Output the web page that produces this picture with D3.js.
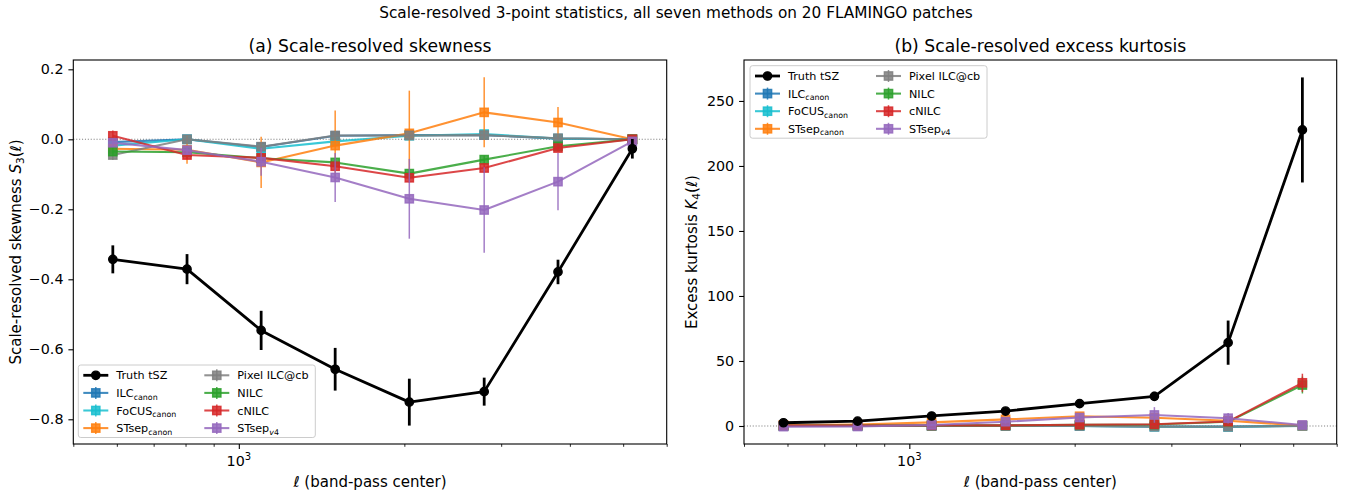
<!DOCTYPE html>
<html><head><meta charset="utf-8">
<script src="https://cdn.jsdelivr.net/npm/d3@7/dist/d3.min.js"></script>
<style>body{margin:0;background:#fff;} svg{display:block;font-family:"DejaVu Sans",sans-serif;}</style>
</head><body>
<svg id="chart" width="1352" height="497"></svg>
<script>
// ---------------- data ----------------
const ell = [590, 805, 1098, 1497, 2042, 2794, 3806, 5196];
const xMajorTicks = [1000];
const xMinorTicks = [500, 600, 700, 800, 900, 2000, 3000, 4000, 5000, 6000];
const skewTicks = [0.2, 0.0, -0.2, -0.4, -0.6, -0.8];
const kurtTicks = [0, 50, 100, 150, 200, 250];

const truthName = "Truth tSZ";
const methodNames = ["ILC", "FoCUS", "STsep", "Pixel ILC@cb", "NILC", "cNILC", "STsep"];
const methodSubs  = ["canon", "canon", "canon", "", "", "", "v4"];

// (a) skewness
const skewTruth    = [-0.343, -0.371, -0.546, -0.657, -0.751, -0.721, -0.379, -0.027];
const skewTruthErr = [0.040, 0.043, 0.056, 0.061, 0.067, 0.040, 0.035, 0.028];
const skewILC      = [-0.008, 0.000, -0.022, 0.010, 0.012, 0.012, 0.002, 0.000];
const skewILCErr   = [0.012, 0.006, 0.008, 0.008, 0.008, 0.008, 0.006, 0.004];
const skewFoCUS    = [-0.018, 0.000, -0.027, -0.006, 0.010, 0.015, 0.002, 0.000];
const skewFoCUSErr = [0.012, 0.006, 0.008, 0.008, 0.008, 0.008, 0.006, 0.004];
const skewSTsep    = [-0.027, -0.030, -0.066, -0.018, 0.017, 0.077, 0.048, 0.000];
const skewSTsepErr = [0.015, 0.040, 0.073, 0.100, 0.122, 0.100, 0.044, 0.005];
const skewPixel    = [-0.045, 0.000, -0.021, 0.011, 0.011, 0.012, 0.003, 0.000];
const skewPixelErr = [0.014, 0.006, 0.008, 0.008, 0.008, 0.008, 0.006, 0.004];
const skewNILC     = [-0.035, -0.037, -0.054, -0.066, -0.098, -0.058, -0.020, 0.000];
const skewNILCErr  = [0.012, 0.008, 0.010, 0.010, 0.012, 0.012, 0.008, 0.004];
const skewCNILC    = [0.010, -0.045, -0.053, -0.077, -0.110, -0.082, -0.025, 0.000];
const skewCNILCErr = [0.015, 0.012, 0.012, 0.012, 0.014, 0.014, 0.010, 0.004];
const skewV4       = [-0.010, -0.031, -0.064, -0.109, -0.170, -0.202, -0.121, -0.006];
const skewV4Err    = [0.012, 0.012, 0.040, 0.070, 0.114, 0.122, 0.082, 0.010];

// (b) excess kurtosis
const kurtTruth    = [2.5, 3.8, 7.7, 11.5, 17.2, 22.8, 64.1, 227.7];
const kurtTruthErr = [0.6, 0.8, 1.2, 1.8, 2.5, 3.5, 17.0, 40.4];
const kurtILC      = [0.1, 0.2, 0.2, 0.2, 0.1, -0.4, -0.5, 0.2];
const kurtILCErr   = [0.2, 0.2, 0.3, 0.3, 0.4, 0.5, 0.5, 0.3];
const kurtFoCUS    = [0.1, 0.1, 0.2, 0.2, 0.0, -0.6, -0.7, 0.1];
const kurtFoCUSErr = [0.2, 0.2, 0.3, 0.3, 0.4, 0.5, 0.5, 0.3];
const kurtSTsep    = [0.8, 1.2, 2.8, 5.1, 7.5, 6.3, 4.0, 0.3];
const kurtSTsepErr = [0.3, 0.5, 0.8, 1.5, 2.0, 2.0, 1.5, 0.3];
const kurtPixel    = [0.1, 0.1, 0.2, 0.1, 0.0, -0.5, -0.6, 0.1];
const kurtPixelErr = [0.2, 0.2, 0.3, 0.3, 0.4, 0.5, 0.5, 0.3];
const kurtNILC     = [0.2, 0.3, 0.4, 0.5, 0.9, 1.1, 3.3, 31.5];
const kurtNILCErr  = [0.2, 0.3, 0.4, 0.5, 0.8, 1.0, 1.5, 6.5];
const kurtCNILC    = [0.3, 0.4, 0.4, 0.5, 1.0, 1.3, 3.4, 33.2];
const kurtCNILCErr = [0.2, 0.3, 0.4, 0.5, 0.8, 1.0, 1.5, 7.0];
const kurtV4       = [-0.5, -0.4, 0.8, 3.3, 6.5, 8.5, 6.0, 0.8];
const kurtV4Err    = [0.3, 0.4, 0.8, 1.5, 3.0, 6.0, 4.0, 0.6];

// ---------------- styles ----------------
const methodColors = ["#1f77b4", "#17becf", "#ff7f0e", "#7f7f7f", "#2ca02c", "#d62728", "#9467bd"];
const FONT = '"DejaVu Sans", sans-serif';
const TICK_FS = 14.3, LABEL_FS = 15, TITLE_FS = 17.2, SUP_FS = 15.3, LEG_FS = 11.2;

const svg = d3.select("#chart");

svg.append("text").attr("x", 676).attr("y", 17.5).attr("text-anchor", "middle")
  .attr("font-size", SUP_FS).attr("fill", "#000")
  .text("Scale-resolved 3-point statistics, all seven methods on 20 FLAMINGO patches");

function drawPanel(cfg) {
  const g = svg.append("g");
  const x = d3.scaleLog().domain([500, 6000]).range([cfg.x0, cfg.x1]);
  const y = d3.scaleLinear().domain(cfg.yDomain).range([cfg.y1, cfg.y0]);

  // title
  g.append("text").attr("x", (cfg.x0 + cfg.x1) / 2).attr("y", cfg.y0 - 8.5)
    .attr("text-anchor", "middle").attr("font-size", TITLE_FS).text(cfg.title);

  // zero line
  g.append("line").attr("x1", cfg.x0).attr("x2", cfg.x1)
    .attr("y1", y(0)).attr("y2", y(0))
    .attr("stroke", "#808080").attr("stroke-width", 1.1)
    .attr("stroke-dasharray", "1.1,1.8");

  // axes: y
  const yAxis = d3.axisLeft(y).tickValues(cfg.yTicks).tickSize(4.9).tickPadding(4.9)
    .tickFormat(cfg.yFormat);
  const ya = g.append("g").attr("transform", `translate(${cfg.x0},0)`).call(yAxis);
  ya.select(".domain").remove();
  ya.selectAll(".tick line").attr("stroke", "#000").attr("stroke-width", 1.1);
  ya.selectAll(".tick text").attr("font-size", TICK_FS).attr("font-family", FONT).attr("fill", "#000");

  // axes: x minor
  const xMinor = d3.axisBottom(x).tickValues(xMinorTicks).tickSize(2.8).tickFormat("");
  const xm = g.append("g").attr("transform", `translate(0,${cfg.y1})`).call(xMinor);
  xm.select(".domain").remove();
  xm.selectAll(".tick line").attr("stroke", "#000").attr("stroke-width", 0.85);
  // axes: x major
  const xMajor = d3.axisBottom(x).tickValues(xMajorTicks).tickSize(4.9).tickFormat("");
  const xM = g.append("g").attr("transform", `translate(0,${cfg.y1})`).call(xMajor);
  xM.select(".domain").remove();
  xM.selectAll(".tick line").attr("stroke", "#000").attr("stroke-width", 1.1);
  xMajorTicks.forEach(v => {
    const t = g.append("text").attr("x", x(v)).attr("y", cfg.y1 + 22).attr("text-anchor", "middle")
      .attr("font-size", TICK_FS);
    t.append("tspan").text("10");
    t.append("tspan").attr("font-size", 10).attr("dy", -5.7).text(String(Math.round(Math.log10(v))));
  });

  // x label
  const xl = g.append("text").attr("x", (cfg.x0 + cfg.x1) / 2).attr("y", cfg.y1 + 43)
    .attr("text-anchor", "middle").attr("font-size", LABEL_FS);
  xl.append("tspan").attr("font-style", "italic").text("ℓ");
  xl.append("tspan").text(" (band-pass center)");

  // y label
  const yc = (cfg.y0 + cfg.y1) / 2;
  const yl = g.append("text").attr("transform", `translate(${cfg.ylabX},${yc}) rotate(-90)`)
    .attr("text-anchor", "middle").attr("font-size", LABEL_FS);
  yl.append("tspan").text(cfg.ylabPre);
  yl.append("tspan").attr("font-style", "italic").text(cfg.ylabSym);
  yl.append("tspan").attr("font-size", 10.5).attr("dy", 3).text(cfg.ylabSub);
  yl.append("tspan").attr("dy", -3).text("(");
  yl.append("tspan").attr("font-style", "italic").text("ℓ");
  yl.append("tspan").text(")");

  // series
  const line = d3.line().x((d, i) => x(ell[i])).y(d => y(d));
  const alpha = 0.85;
  cfg.series.forEach((vals, k) => {
    const errs = cfg.errors[k];
    const col = methodColors[k];
    const sg = g.append("g");
    sg.append("path").datum(vals).attr("d", line).attr("fill", "none")
      .attr("stroke", col).attr("stroke-width", 2.08).attr("stroke-opacity", alpha)
      .attr("stroke-linejoin", "round");
    sg.selectAll("line.eb").data(vals).join("line")
      .attr("x1", (d, i) => x(ell[i])).attr("x2", (d, i) => x(ell[i]))
      .attr("y1", (d, i) => y(d - errs[i])).attr("y2", (d, i) => y(d + errs[i]))
      .attr("stroke", col).attr("stroke-width", 1.5).attr("stroke-opacity", alpha);
    sg.selectAll("rect").data(vals).join("rect")
      .attr("x", (d, i) => x(ell[i]) - 4.15).attr("y", d => y(d) - 4.15)
      .attr("width", 8.3).attr("height", 8.3)
      .attr("fill", col).attr("fill-opacity", alpha)
      .attr("stroke", col).attr("stroke-width", 1.39).attr("stroke-opacity", alpha);
  });
  // truth
  const tg = g.append("g");
  tg.append("path").datum(cfg.truth).attr("d", line).attr("fill", "none")
    .attr("stroke", "#000").attr("stroke-width", 2.78).attr("stroke-linejoin", "round");
  tg.selectAll("line").data(cfg.truth).join("line")
    .attr("x1", (d, i) => x(ell[i])).attr("x2", (d, i) => x(ell[i]))
    .attr("y1", (d, i) => y(d - cfg.truthErr[i])).attr("y2", (d, i) => y(d + cfg.truthErr[i]))
    .attr("stroke", "#000").attr("stroke-width", 2.78);
  tg.selectAll("circle").data(cfg.truth).join("circle")
    .attr("cx", (d, i) => x(ell[i])).attr("cy", d => y(d)).attr("r", 4.15)
    .attr("fill", "#000").attr("stroke", "#000").attr("stroke-width", 1.39);

  // frame
  g.append("rect").attr("x", cfg.x0).attr("y", cfg.y0)
    .attr("width", cfg.x1 - cfg.x0).attr("height", cfg.y1 - cfg.y0)
    .attr("fill", "none").attr("stroke", "#000").attr("stroke-width", 1.1);

  // legend
  const L = cfg.legend;
  const lg = g.append("g").attr("transform", `translate(${L.x},${L.y})`);
  lg.append("rect").attr("x", 0).attr("y", 0).attr("width", 237).attr("height", 72.5)
    .attr("rx", 2.5).attr("fill", "#fff").attr("fill-opacity", 0.8)
    .attr("stroke", "#cccccc").attr("stroke-width", 1);
  const entries = [{name: truthName, sub: "", truth: true}]
    .concat(methodNames.map((n, k) => ({name: n, sub: methodSubs[k], color: methodColors[k]})));
  entries.forEach((e, idx) => {
    const col = Math.floor(idx / 4), row = idx % 4;
    const hx = 5 + col * 121, cy = 10.3 + row * 17.6;
    const eg = lg.append("g");
    if (e.truth) {
      eg.append("line").attr("x1", hx).attr("x2", hx + 25).attr("y1", cy).attr("y2", cy)
        .attr("stroke", "#000").attr("stroke-width", 2.78);
      eg.append("circle").attr("cx", hx + 12.5).attr("cy", cy).attr("r", 4.15).attr("fill", "#000")
        .attr("stroke", "#000").attr("stroke-width", 1.39);
    } else {
      eg.append("line").attr("x1", hx).attr("x2", hx + 25).attr("y1", cy).attr("y2", cy)
        .attr("stroke", e.color).attr("stroke-width", 2.08).attr("stroke-opacity", alpha);
      eg.append("line").attr("x1", hx + 12.5).attr("x2", hx + 12.5).attr("y1", cy - 6).attr("y2", cy + 6)
        .attr("stroke", e.color).attr("stroke-width", 1.5).attr("stroke-opacity", alpha);
      eg.append("rect").attr("x", hx + 12.5 - 4.15).attr("y", cy - 4.15).attr("width", 8.3).attr("height", 8.3)
        .attr("fill", e.color).attr("fill-opacity", alpha)
        .attr("stroke", e.color).attr("stroke-width", 1.39).attr("stroke-opacity", alpha);
    }
    const t = eg.append("text").attr("x", hx + 33).attr("y", cy + 4).attr("font-size", LEG_FS);
    t.append("tspan").text(e.name);
    if (e.sub) {
      const st = t.append("tspan").attr("font-size", 7.9).attr("dy", 2.6);
      if (e.sub === "v4") {
        st.append("tspan").attr("font-style", "italic").text("v");
        st.append("tspan").text("4");
      } else {
        st.text(e.sub);
      }
    }
  });
}

drawPanel({
  x0: 73.3, x1: 666.7, y0: 60, y1: 444,
  yDomain: [-0.8706, 0.2266], yTicks: skewTicks,
  yFormat: d => d3.format(".1f")(d).replace("-", "\u2212"),
  title: "(a) Scale-resolved skewness",
  ylabX: 21, ylabPre: "Scale-resolved skewness ", ylabSym: "S", ylabSub: "3",
  truth: skewTruth, truthErr: skewTruthErr,
  series: [skewILC, skewFoCUS, skewSTsep, skewPixel, skewNILC, skewCNILC, skewV4],
  errors: [skewILCErr, skewFoCUSErr, skewSTsepErr, skewPixelErr, skewNILCErr, skewCNILCErr, skewV4Err],
  legend: {x: 78.3, y: 365}
});

drawPanel({
  x0: 744, x1: 1336.7, y0: 60, y1: 444,
  yDomain: [-13.85, 281.5], yTicks: kurtTicks,
  yFormat: d => String(d),
  title: "(b) Scale-resolved excess kurtosis",
  ylabX: 697, ylabPre: "Excess kurtosis ", ylabSym: "K", ylabSub: "4",
  truth: kurtTruth, truthErr: kurtTruthErr,
  series: [kurtILC, kurtFoCUS, kurtSTsep, kurtPixel, kurtNILC, kurtCNILC, kurtV4],
  errors: [kurtILCErr, kurtFoCUSErr, kurtSTsepErr, kurtPixelErr, kurtNILCErr, kurtCNILCErr, kurtV4Err],
  legend: {x: 750, y: 65.7}
});
</script>
</body></html>
